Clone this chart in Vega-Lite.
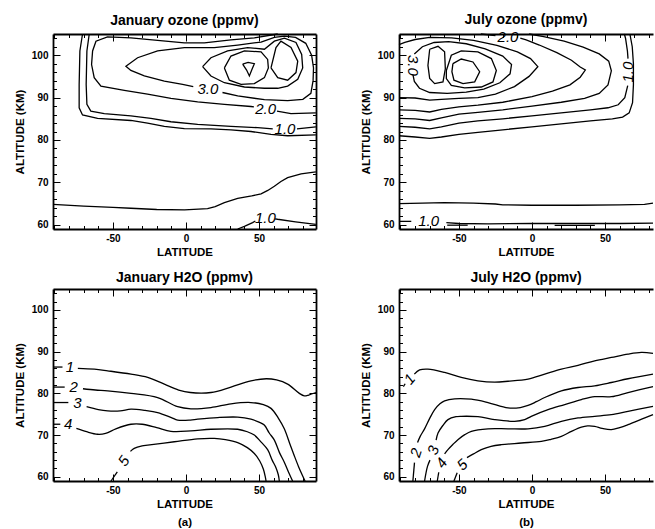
{
  "$schema": "https://vega.github.io/schema/vega-lite/v6.json",
  "background": "white",
  "padding": {"left": 14, "top": 13, "right": 0, "bottom": 0},
  "bounds": "flush",
  "columns": 2,
  "spacing": {"row": 60, "column": 83},
  "config": {
    "view": {"stroke": null},
    "axis": {
      "grid": false,
      "domainColor": "black",
      "domainWidth": 1.8,
      "tickColor": "black",
      "tickWidth": 1,
      "labelFont": "Liberation Sans",
      "labelFontSize": 10,
      "labelFontWeight": "bold",
      "labelColor": "black",
      "labelOverlap": false,
      "labelFlush": false,
      "titleFont": "Liberation Sans",
      "titleFontSize": 11.5,
      "titleFontWeight": "bold",
      "titleColor": "black"
    },
    "title": {"font": "Liberation Sans", "fontSize": 14, "fontWeight": "bold", "color": "black", "frame": "group", "offset": 3, "anchor": "middle"},
    "line": {"color": "black", "strokeWidth": 1.3},
    "text": {"font": "Liberation Sans", "fontSize": 15, "fontStyle": "italic", "color": "black", "baseline": "middle", "align": "center"}
  },
  "datasets": {
    "jo": [
      {"c":"A","lat":-70.8,"alt":105},{"c":"A","lat":-72.6,"alt":101},{"c":"A","lat":-73.1,"alt":93.1},{"c":"A","lat":-73.1,"alt":87.6},{"c":"A","lat":-70.8,"alt":85.9},{"c":"A","lat":-60.5,"alt":85.1},{"c":"A","lat":-37.7,"alt":84.6},{"c":"A","lat":-26.3,"alt":84},{"c":"A","lat":-14.8,"alt":83.2},{"c":"A","lat":-1.1,"alt":82.7},{"c":"A","lat":17.1,"alt":82.6},{"c":"A","lat":30.8,"alt":82.4},{"c":"A","lat":44.5,"alt":82},{"c":"A","lat":58.2,"alt":81.3},{"c":"A","lat":69.6,"alt":81},{"c":"A","lat":88.9,"alt":81.2},
      {"c":"B1","lat":-66.2,"alt":105},{"c":"B1","lat":-67.8,"alt":101},{"c":"B1","lat":-68.3,"alt":93.1},{"c":"B1","lat":-67.8,"alt":88.4},{"c":"B1","lat":-65.1,"alt":86.8},{"c":"B1","lat":-55.9,"alt":86.2},{"c":"B1","lat":-37.7,"alt":85.7},{"c":"B1","lat":-24,"alt":85.1},{"c":"B1","lat":-10.3,"alt":84.3},{"c":"B1","lat":8,"alt":83.7},{"c":"B1","lat":30.8,"alt":83.2},{"c":"B1","lat":49.1,"alt":82.9},{"c":"B1","lat":59.4,"alt":82.6},
      {"c":"B2","lat":76,"alt":82.6},{"c":"B2","lat":88.9,"alt":83.1},
      {"c":"C1","lat":62.8,"alt":105},{"c":"C1","lat":46.8,"alt":104.1},{"c":"C1","lat":30.8,"alt":103.6},{"c":"C1","lat":12.6,"alt":102.9},{"c":"C1","lat":-1.1,"alt":102.9},{"c":"C1","lat":-19.4,"alt":103.5},{"c":"C1","lat":-37.7,"alt":104.1},{"c":"C1","lat":-53.7,"alt":104.3},{"c":"C1","lat":-61.6,"alt":103.3},{"c":"C1","lat":-63.9,"alt":101},{"c":"C1","lat":-64.6,"alt":97.8},{"c":"C1","lat":-62.8,"alt":94.7},{"c":"C1","lat":-58.2,"alt":92.7},{"c":"C1","lat":-42.2,"alt":91.7},{"c":"C1","lat":-26.3,"alt":90.8},{"c":"C1","lat":-10.3,"alt":89.8},{"c":"C1","lat":8,"alt":89},{"c":"C1","lat":26.3,"alt":88.4},{"c":"C1","lat":44.5,"alt":87.9},{"c":"C1","lat":46.5,"alt":87.8},
      {"c":"C2","lat":62.3,"alt":86.8},{"c":"C2","lat":71.9,"alt":86.2},{"c":"C2","lat":88.9,"alt":86.4},
      {"c":"D","lat":25,"alt":91.2},{"c":"D","lat":35.4,"alt":90.4},{"c":"D","lat":53.7,"alt":89.5},{"c":"D","lat":69.6,"alt":89.3},{"c":"D","lat":80,"alt":89.6},{"c":"D","lat":85.5,"alt":91},{"c":"D","lat":87,"alt":94},{"c":"D","lat":87.3,"alt":97},{"c":"D","lat":86,"alt":100},{"c":"D","lat":82,"alt":102.8},{"c":"D","lat":75,"alt":104.2},{"c":"D","lat":67.4,"alt":104.5},{"c":"D","lat":60.5,"alt":104.2},{"c":"D","lat":51.4,"alt":103.1},{"c":"D","lat":35.4,"alt":102.4},{"c":"D","lat":19.4,"alt":101.8},{"c":"D","lat":-1.1,"alt":101.8},{"c":"D","lat":-19.4,"alt":101},{"c":"D","lat":-33.1,"alt":99.4},{"c":"D","lat":-41.1,"alt":97.4},{"c":"D","lat":-37.7,"alt":96.4},{"c":"D","lat":-28.5,"alt":95.1},{"c":"D","lat":-14.8,"alt":93.9},{"c":"D","lat":-2.3,"alt":93.1},{"c":"D","lat":5,"alt":92.6},
      {"c":"E","lat":11.4,"alt":97.3},{"c":"E","lat":17.1,"alt":99.4},{"c":"E","lat":28.5,"alt":101},{"c":"E","lat":42.2,"alt":101.8},{"c":"E","lat":53.7,"alt":101.4},{"c":"E","lat":60.5,"alt":103.3},{"c":"E","lat":67.4,"alt":104},{"c":"E","lat":75.3,"alt":103},{"c":"E","lat":79.2,"alt":100.2},{"c":"E","lat":79.9,"alt":97},{"c":"E","lat":76.5,"alt":94.3},{"c":"E","lat":69.6,"alt":92.7},{"c":"E","lat":62.8,"alt":92.2},{"c":"E","lat":53.7,"alt":92.2},{"c":"E","lat":40,"alt":92.5},{"c":"E","lat":26.3,"alt":93.5},{"c":"E","lat":17.1,"alt":95.1},{"c":"E","lat":11.4,"alt":97.3},
      {"c":"F","lat":26.3,"alt":97},{"c":"F","lat":30.8,"alt":99.8},{"c":"F","lat":40,"alt":101},{"c":"F","lat":51.4,"alt":100.8},{"c":"F","lat":55.9,"alt":99},{"c":"F","lat":56.4,"alt":97},{"c":"F","lat":53.7,"alt":94.7},{"c":"F","lat":46.8,"alt":93.3},{"c":"F","lat":37.7,"alt":93.1},{"c":"F","lat":29.7,"alt":94.1},{"c":"F","lat":26.3,"alt":97},
      {"c":"F2","lat":58.2,"alt":97},{"c":"F2","lat":61.6,"alt":101.8},{"c":"F2","lat":65,"alt":103.3},{"c":"F2","lat":71.9,"alt":101.8},{"c":"F2","lat":76.5,"alt":98.6},{"c":"F2","lat":75.3,"alt":95.9},{"c":"F2","lat":69.6,"alt":94.1},{"c":"F2","lat":62.8,"alt":94.7},{"c":"F2","lat":58.2,"alt":97},
      {"c":"G","lat":38.8,"alt":97.9},{"c":"G","lat":42.5,"alt":98.3},{"c":"G","lat":46.8,"alt":98},{"c":"G","lat":45,"alt":96.5},{"c":"G","lat":43.4,"alt":95.1},{"c":"G","lat":41.5,"alt":96.5},{"c":"G","lat":38.8,"alt":97.9},
      {"c":"L1","lat":-91,"alt":64.8},{"c":"L1","lat":-70,"alt":64.4},{"c":"L1","lat":-50,"alt":64.1},{"c":"L1","lat":-37.7,"alt":63.9},{"c":"L1","lat":-20,"alt":63.6},{"c":"L1","lat":-1,"alt":63.5},{"c":"L1","lat":14.8,"alt":63.8},{"c":"L1","lat":20,"alt":64.3},{"c":"L1","lat":26.3,"alt":65.2},{"c":"L1","lat":35.4,"alt":66.2},{"c":"L1","lat":45,"alt":66.8},{"c":"L1","lat":51.4,"alt":67.3},{"c":"L1","lat":56,"alt":68.1},{"c":"L1","lat":60.5,"alt":69.1},{"c":"L1","lat":65,"alt":70.2},{"c":"L1","lat":69.6,"alt":71.1},{"c":"L1","lat":78.8,"alt":72},{"c":"L1","lat":88.9,"alt":72.5},
      {"c":"L2a","lat":35.4,"alt":59},{"c":"L2a","lat":40,"alt":59.6},{"c":"L2a","lat":45.6,"alt":60.5},{"c":"L2a","lat":47.5,"alt":60.9},
      {"c":"L2b","lat":61,"alt":61.4},{"c":"L2b","lat":62.7,"alt":61.3},{"c":"L2b","lat":75,"alt":60.7},{"c":"L2b","lat":88.9,"alt":60.1}
    ],
    "joT": [
      {"t":"3.0","lat":15,"alt":92.1},
      {"t":"2.0","lat":54.5,"alt":87.3},
      {"t":"1.0","lat":67.8,"alt":82.5},
      {"t":"1.0","lat":54.3,"alt":61.5}
    ],
    "jy": [
      {"c":"c1","lat":-91,"alt":81},{"c":"c1","lat":-80,"alt":80.7},{"c":"c1","lat":-70,"alt":80.4},{"c":"c1","lat":-62,"alt":80.7},{"c":"c1","lat":-50,"alt":81.3},{"c":"c1","lat":-37,"alt":81.8},{"c":"c1","lat":-20,"alt":82.4},{"c":"c1","lat":0,"alt":83.1},{"c":"c1","lat":20,"alt":83.8},{"c":"c1","lat":40,"alt":84.5},{"c":"c1","lat":55,"alt":85},{"c":"c1","lat":62,"alt":85.4},{"c":"c1","lat":66.5,"alt":86.4},{"c":"c1","lat":68.8,"alt":88.8},{"c":"c1","lat":69.4,"alt":93},{"c":"c1","lat":69.4,"alt":98},{"c":"c1","lat":68.6,"alt":102},{"c":"c1","lat":67,"alt":105},
      {"c":"c2a","lat":-91,"alt":83.2},{"c":"c2a","lat":-80,"alt":83},{"c":"c2a","lat":-70,"alt":82.6},{"c":"c2a","lat":-62,"alt":83.1},{"c":"c2a","lat":-50,"alt":84},{"c":"c2a","lat":-37,"alt":84.5},{"c":"c2a","lat":-20,"alt":85},{"c":"c2a","lat":0,"alt":85.7},{"c":"c2a","lat":20,"alt":86.4},{"c":"c2a","lat":40,"alt":87.1},{"c":"c2a","lat":52,"alt":87.6},{"c":"c2a","lat":59,"alt":88.3},{"c":"c2a","lat":63.5,"alt":90},{"c":"c2a","lat":65.5,"alt":92.8},
      {"c":"c2b","lat":65.7,"alt":99.2},{"c":"c2b","lat":65.3,"alt":101},{"c":"c2b","lat":64,"alt":104},{"c":"c2b","lat":63.2,"alt":105},
      {"c":"c3","lat":-91,"alt":85.1},{"c":"c3","lat":-80,"alt":85},{"c":"c3","lat":-70,"alt":84.6},{"c":"c3","lat":-62,"alt":85.2},{"c":"c3","lat":-50,"alt":86.1},{"c":"c3","lat":-37,"alt":86.5},{"c":"c3","lat":-20,"alt":87.1},{"c":"c3","lat":0,"alt":88},{"c":"c3","lat":20,"alt":88.9},{"c":"c3","lat":36,"alt":89.8},{"c":"c3","lat":46,"alt":91},{"c":"c3","lat":52,"alt":93},{"c":"c3","lat":54.3,"alt":96.3},{"c":"c3","lat":52.5,"alt":98.6},{"c":"c3","lat":46,"alt":100.3},{"c":"c3","lat":35,"alt":101.9},{"c":"c3","lat":22,"alt":103.3},{"c":"c3","lat":8,"alt":104.4},{"c":"c3","lat":-2,"alt":105},
      {"c":"c4a","lat":-91,"alt":87.1},{"c":"c4a","lat":-80,"alt":87},{"c":"c4a","lat":-70,"alt":86.6},{"c":"c4a","lat":-62,"alt":87.2},{"c":"c4a","lat":-50,"alt":87.8},{"c":"c4a","lat":-37,"alt":88.2},{"c":"c4a","lat":-20,"alt":88.9},{"c":"c4a","lat":0,"alt":90.2},{"c":"c4a","lat":14,"alt":91.5},{"c":"c4a","lat":26,"alt":93},{"c":"c4a","lat":33,"alt":94.8},{"c":"c4a","lat":36.5,"alt":96.5},{"c":"c4a","lat":33,"alt":97.2},{"c":"c4a","lat":27,"alt":98.8},{"c":"c4a","lat":17,"alt":100.6},{"c":"c4a","lat":5,"alt":102.4},{"c":"c4a","lat":-4,"alt":103.6},{"c":"c4a","lat":-8,"alt":104},
      {"c":"c4b","lat":-25,"alt":104.6},{"c":"c4b","lat":-35,"alt":105},
      {"c":"c5","lat":-91,"alt":90},{"c":"c5","lat":-80,"alt":89.9},{"c":"c5","lat":-70,"alt":89.4},{"c":"c5","lat":-62,"alt":89.6},{"c":"c5","lat":-50,"alt":89.8},{"c":"c5","lat":-37,"alt":90},{"c":"c5","lat":-25,"alt":90.8},{"c":"c5","lat":-12,"alt":92.6},{"c":"c5","lat":-2,"alt":95},{"c":"c5","lat":4,"alt":97.3},{"c":"c5","lat":-1,"alt":99.2},{"c":"c5","lat":-10,"alt":100.8},{"c":"c5","lat":-24,"alt":102.3},{"c":"c5","lat":-40,"alt":103.5},{"c":"c5","lat":-55,"alt":104.1},{"c":"c5","lat":-70,"alt":104.2},{"c":"c5","lat":-80,"alt":103.7},{"c":"c5","lat":-87,"alt":103},{"c":"c5","lat":-91,"alt":102.5},
      {"c":"c6","lat":-80.5,"alt":100.3},{"c":"c6","lat":-75,"alt":102},{"c":"c6","lat":-67,"alt":103},{"c":"c6","lat":-57,"alt":103.2},{"c":"c6","lat":-45,"alt":102.7},{"c":"c6","lat":-32,"alt":101.5},{"c":"c6","lat":-20,"alt":99.8},{"c":"c6","lat":-14,"alt":97.8},{"c":"c6","lat":-15,"alt":95.6},{"c":"c6","lat":-22,"alt":93.5},{"c":"c6","lat":-33,"alt":92},{"c":"c6","lat":-45,"alt":91.3},{"c":"c6","lat":-58,"alt":91},{"c":"c6","lat":-70,"alt":91.2},{"c":"c6","lat":-77,"alt":92.2},{"c":"c6","lat":-80.5,"alt":93.8},{"c":"c6","lat":-81.4,"alt":95.3},
      {"c":"c7","lat":-58.6,"alt":96.4},{"c":"c7","lat":-55.2,"alt":100},{"c":"c7","lat":-48.4,"alt":101},{"c":"c7","lat":-37,"alt":100.8},{"c":"c7","lat":-27.8,"alt":99.2},{"c":"c7","lat":-24.4,"alt":96.4},{"c":"c7","lat":-26.7,"alt":93.7},{"c":"c7","lat":-34.7,"alt":92.5},{"c":"c7","lat":-46.1,"alt":92.3},{"c":"c7","lat":-55.2,"alt":92.9},{"c":"c7","lat":-58.6,"alt":94.5},{"c":"c7","lat":-58.6,"alt":96.4},
      {"c":"c7b","lat":-70,"alt":101.4},{"c":"c7b","lat":-64.3,"alt":102.1},{"c":"c7b","lat":-59.8,"alt":100.8},{"c":"c7b","lat":-59.3,"alt":96.8},{"c":"c7b","lat":-60.9,"alt":93.7},{"c":"c7b","lat":-66.6,"alt":93.3},{"c":"c7b","lat":-70,"alt":94.5},{"c":"c7b","lat":-71.2,"alt":97.6},{"c":"c7b","lat":-70,"alt":101.4},
      {"c":"c8","lat":-54.1,"alt":98},{"c":"c8","lat":-48.4,"alt":99.1},{"c":"c8","lat":-40.4,"alt":98.4},{"c":"c8","lat":-35.8,"alt":96.1},{"c":"c8","lat":-39.2,"alt":93.7},{"c":"c8","lat":-47.2,"alt":93.3},{"c":"c8","lat":-53.4,"alt":94.1},{"c":"c8","lat":-54.8,"alt":96.1},{"c":"c8","lat":-54.1,"alt":98},
      {"c":"h65","lat":-91,"alt":65},{"c":"h65","lat":-75,"alt":65.1},{"c":"h65","lat":-60,"alt":65.2},{"c":"h65","lat":-40,"alt":65.1},{"c":"h65","lat":-25,"alt":64.9},{"c":"h65","lat":-20,"alt":64.7},{"c":"h65","lat":0,"alt":64.6},{"c":"h65","lat":30,"alt":64.6},{"c":"h65","lat":60,"alt":64.7},{"c":"h65","lat":77,"alt":64.8},{"c":"h65","lat":82.8,"alt":65.1},
      {"c":"b1a","lat":-91,"alt":60.8},{"c":"b1a","lat":-82.6,"alt":60.8},
      {"c":"b1b","lat":-58.6,"alt":60.5},{"c":"b1b","lat":-50,"alt":60.3},{"c":"b1b","lat":-30,"alt":60.2},{"c":"b1b","lat":0,"alt":60.3},{"c":"b1b","lat":30,"alt":60.3},{"c":"b1b","lat":60,"alt":60.3},{"c":"b1b","lat":82.8,"alt":60.4},
      {"c":"b2","lat":-58,"alt":59.9},{"c":"b2","lat":-44,"alt":59.9},
      {"c":"b3","lat":15.5,"alt":59.85},{"c":"b3","lat":43,"alt":59.85}
    ],
    "jyT": [
      {"t":"2.0","lat":-16.4,"alt":104.2},
      {"t":"1.0","lat":-70.7,"alt":60.8},
      {"t":"3.0","lat":-81.3,"alt":97.6},
      {"t":"1.0","lat":65.7,"alt":96}
    ],
    "jh": [
      {"c":"l1a","lat":-91,"alt":86.3},{"c":"l1a","lat":-84.5,"alt":86.3},
      {"c":"l1b","lat":-74,"alt":86},{"c":"l1b","lat":-62.7,"alt":85.8},{"c":"l1b","lat":-53.6,"alt":85.4},{"c":"l1b","lat":-37.6,"alt":84.6},{"c":"l1b","lat":-26.2,"alt":83.8},{"c":"l1b","lat":-14.8,"alt":82.2},{"c":"l1b","lat":-5,"alt":80.8},{"c":"l1b","lat":3,"alt":80.2},{"c":"l1b","lat":17.1,"alt":80.2},{"c":"l1b","lat":30.8,"alt":81.5},{"c":"l1b","lat":44.5,"alt":83},{"c":"l1b","lat":55,"alt":83.5},{"c":"l1b","lat":62,"alt":83.2},{"c":"l1b","lat":69.6,"alt":82.2},{"c":"l1b","lat":77.6,"alt":80},{"c":"l1b","lat":81,"alt":79.4},{"c":"l1b","lat":84,"alt":79.6},{"c":"l1b","lat":89,"alt":80.2},
      {"c":"l2a","lat":-91,"alt":81.5},{"c":"l2a","lat":-83,"alt":81.5},
      {"c":"l2b","lat":-70.5,"alt":81.1},{"c":"l2b","lat":-62,"alt":80.8},{"c":"l2b","lat":-53.6,"alt":80.6},{"c":"l2b","lat":-37.6,"alt":80},{"c":"l2b","lat":-19.4,"alt":79},{"c":"l2b","lat":-5.7,"alt":76.8},{"c":"l2b","lat":3.4,"alt":76.3},{"c":"l2b","lat":17.1,"alt":76.6},{"c":"l2b","lat":30.8,"alt":77.5},{"c":"l2b","lat":44.5,"alt":77.8},{"c":"l2b","lat":53,"alt":77.3},{"c":"l2b","lat":58.2,"alt":76.4},{"c":"l2b","lat":63,"alt":74.2},{"c":"l2b","lat":67.3,"alt":71.5},{"c":"l2b","lat":71,"alt":68},{"c":"l2b","lat":74.2,"alt":65},{"c":"l2b","lat":77,"alt":62.5},{"c":"l2b","lat":79.5,"alt":60.5},{"c":"l2b","lat":81.5,"alt":59},
      {"c":"l3a","lat":-91,"alt":77.8},{"c":"l3a","lat":-80.5,"alt":77.8},
      {"c":"l3b","lat":-68,"alt":76.8},{"c":"l3b","lat":-60,"alt":76.1},{"c":"l3b","lat":-53.6,"alt":75.8},{"c":"l3b","lat":-45,"alt":75.8},{"c":"l3b","lat":-37.6,"alt":76.2},{"c":"l3b","lat":-28,"alt":75.9},{"c":"l3b","lat":-19.4,"alt":75.4},{"c":"l3b","lat":-10,"alt":74.2},{"c":"l3b","lat":-5.7,"alt":73.6},{"c":"l3b","lat":3,"alt":73.6},{"c":"l3b","lat":8,"alt":73.8},{"c":"l3b","lat":21.7,"alt":74.2},{"c":"l3b","lat":35.4,"alt":74.3},{"c":"l3b","lat":44.5,"alt":73.8},{"c":"l3b","lat":50,"alt":73.1},{"c":"l3b","lat":53.6,"alt":72.4},{"c":"l3b","lat":57,"alt":70.5},{"c":"l3b","lat":60.5,"alt":68.8},{"c":"l3b","lat":64,"alt":65.8},{"c":"l3b","lat":67.3,"alt":63.5},{"c":"l3b","lat":70,"alt":61.3},{"c":"l3b","lat":73,"alt":59},
      {"c":"l4a","lat":-91,"alt":72.6},{"c":"l4a","lat":-86,"alt":72.6},
      {"c":"l4b","lat":-75,"alt":71.6},{"c":"l4b","lat":-68,"alt":70.8},{"c":"l4b","lat":-60.5,"alt":70.2},{"c":"l4b","lat":-55,"alt":70.4},{"c":"l4b","lat":-48,"alt":71.5},{"c":"l4b","lat":-37.6,"alt":72.6},{"c":"l4b","lat":-30,"alt":72.6},{"c":"l4b","lat":-20,"alt":71.8},{"c":"l4b","lat":-10.3,"alt":70.9},{"c":"l4b","lat":3.4,"alt":71},{"c":"l4b","lat":17.1,"alt":71.4},{"c":"l4b","lat":35.4,"alt":71.4},{"c":"l4b","lat":42,"alt":70.8},{"c":"l4b","lat":46.8,"alt":70},{"c":"l4b","lat":51,"alt":68.5},{"c":"l4b","lat":55.9,"alt":66.5},{"c":"l4b","lat":59,"alt":64},{"c":"l4b","lat":61.6,"alt":62.2},{"c":"l4b","lat":63.2,"alt":60.5},{"c":"l4b","lat":63.9,"alt":59},
      {"c":"l5a","lat":-51.3,"alt":59},{"c":"l5a","lat":-47,"alt":61.2},
      {"c":"l5b","lat":-38,"alt":66.1},{"c":"l5b","lat":-35.4,"alt":66.8},{"c":"l5b","lat":-30,"alt":67.4},{"c":"l5b","lat":-26.2,"alt":67.6},{"c":"l5b","lat":-8,"alt":68.4},{"c":"l5b","lat":8,"alt":69.1},{"c":"l5b","lat":19.4,"alt":69.2},{"c":"l5b","lat":27,"alt":68.9},{"c":"l5b","lat":35.4,"alt":68.2},{"c":"l5b","lat":42,"alt":67},{"c":"l5b","lat":46.8,"alt":65.6},{"c":"l5b","lat":50.5,"alt":63.8},{"c":"l5b","lat":53,"alt":61.8},{"c":"l5b","lat":54.3,"alt":60},{"c":"l5b","lat":54.8,"alt":59}
    ],
    "jhT": [
      {"t":"1","lat":-79.5,"alt":86.3},
      {"t":"2","lat":-76.9,"alt":81.5},
      {"t":"3","lat":-74.3,"alt":77.8},
      {"t":"4","lat":-80.7,"alt":72.6},
      {"t":"5","lat":-42.5,"alt":63.8}
    ],
    "jw": [
      {"c":"w1a","lat":-88,"alt":81.6},{"c":"w1a","lat":-86.8,"alt":82.3},
      {"c":"w1b","lat":-80.5,"alt":84.6},{"c":"w1b","lat":-76.9,"alt":85.6},{"c":"w1b","lat":-71.2,"alt":85.8},{"c":"w1b","lat":-59.8,"alt":85},{"c":"w1b","lat":-48.4,"alt":83.8},{"c":"w1b","lat":-37,"alt":83},{"c":"w1b","lat":-25.6,"alt":82.7},{"c":"w1b","lat":-16.4,"alt":82.9},{"c":"w1b","lat":-2.7,"alt":83.4},{"c":"w1b","lat":8.7,"alt":84.6},{"c":"w1b","lat":20.1,"alt":85.8},{"c":"w1b","lat":31.5,"alt":86.7},{"c":"w1b","lat":42.9,"alt":87.8},{"c":"w1b","lat":54.3,"alt":88.6},{"c":"w1b","lat":65.7,"alt":89.4},{"c":"w1b","lat":74.8,"alt":89.8},{"c":"w1b","lat":82.8,"alt":89.6},
      {"c":"w2a","lat":-81.5,"alt":59},{"c":"w2a","lat":-80.4,"alt":63.4},
      {"c":"w2b","lat":-78.3,"alt":68.2},{"c":"w2b","lat":-76.5,"alt":69.7},{"c":"w2b","lat":-73.5,"alt":71.5},{"c":"w2b","lat":-70,"alt":74},{"c":"w2b","lat":-66.6,"alt":76.1},{"c":"w2b","lat":-63,"alt":77.5},{"c":"w2b","lat":-59.8,"alt":78.2},{"c":"w2b","lat":-52.9,"alt":78.7},{"c":"w2b","lat":-41.5,"alt":78.6},{"c":"w2b","lat":-30.1,"alt":77.8},{"c":"w2b","lat":-16.4,"alt":76.5},{"c":"w2b","lat":-8,"alt":76.6},{"c":"w2b","lat":-2.7,"alt":77.1},{"c":"w2b","lat":3,"alt":78},{"c":"w2b","lat":8.7,"alt":79},{"c":"w2b","lat":20.1,"alt":80.6},{"c":"w2b","lat":31.5,"alt":81.4},{"c":"w2b","lat":42.9,"alt":81.8},{"c":"w2b","lat":54.3,"alt":82.6},{"c":"w2b","lat":65.7,"alt":83.5},{"c":"w2b","lat":82.8,"alt":84.6},
      {"c":"w3a","lat":-73.5,"alt":59},{"c":"w3a","lat":-71.5,"alt":62.5},{"c":"w3a","lat":-69.8,"alt":64},
      {"c":"w3b","lat":-65.6,"alt":68.8},{"c":"w3b","lat":-64.3,"alt":70.5},{"c":"w3b","lat":-61,"alt":72.3},{"c":"w3b","lat":-57.5,"alt":73.7},{"c":"w3b","lat":-52,"alt":74.4},{"c":"w3b","lat":-48.4,"alt":74.5},{"c":"w3b","lat":-37,"alt":74.4},{"c":"w3b","lat":-25.6,"alt":73.7},{"c":"w3b","lat":-11.9,"alt":73.3},{"c":"w3b","lat":-5,"alt":73.7},{"c":"w3b","lat":-0.5,"alt":74.5},{"c":"w3b","lat":11,"alt":76.1},{"c":"w3b","lat":22.4,"alt":77.3},{"c":"w3b","lat":33.8,"alt":78.5},{"c":"w3b","lat":42.9,"alt":79.2},{"c":"w3b","lat":54.3,"alt":79.2},{"c":"w3b","lat":65.7,"alt":80.2},{"c":"w3b","lat":82.8,"alt":81.6},
      {"c":"w4a","lat":-64.8,"alt":59},{"c":"w4a","lat":-63.8,"alt":61.1},
      {"c":"w4b","lat":-59.8,"alt":65.5},{"c":"w4b","lat":-57.5,"alt":66.5},{"c":"w4b","lat":-54,"alt":67.8},{"c":"w4b","lat":-50.7,"alt":68.9},{"c":"w4b","lat":-46,"alt":70.1},{"c":"w4b","lat":-41.5,"alt":70.9},{"c":"w4b","lat":-30.1,"alt":71.5},{"c":"w4b","lat":-16.4,"alt":71.5},{"c":"w4b","lat":-2.7,"alt":71.5},{"c":"w4b","lat":8.7,"alt":72.1},{"c":"w4b","lat":20.1,"alt":73.3},{"c":"w4b","lat":31.5,"alt":74.1},{"c":"w4b","lat":42.9,"alt":74.5},{"c":"w4b","lat":54.3,"alt":74.9},{"c":"w4b","lat":65.7,"alt":75.7},{"c":"w4b","lat":82.8,"alt":76.9},
      {"c":"w5a","lat":-53.4,"alt":59},{"c":"w5a","lat":-51.2,"alt":61},
      {"c":"w5b","lat":-44.5,"alt":64.6},{"c":"w5b","lat":-40,"alt":65.5},{"c":"w5b","lat":-34.7,"alt":66.5},{"c":"w5b","lat":-28,"alt":67.3},{"c":"w5b","lat":-21,"alt":67.7},{"c":"w5b","lat":-7.3,"alt":68.1},{"c":"w5b","lat":6.4,"alt":68.5},{"c":"w5b","lat":13,"alt":69},{"c":"w5b","lat":20.1,"alt":69.7},{"c":"w5b","lat":27,"alt":70.9},{"c":"w5b","lat":33.8,"alt":71.9},{"c":"w5b","lat":38,"alt":72.2},{"c":"w5b","lat":42.9,"alt":72.1},{"c":"w5b","lat":48,"alt":71.6},{"c":"w5b","lat":54.3,"alt":71.3},{"c":"w5b","lat":60,"alt":71.8},{"c":"w5b","lat":65.7,"alt":72.5},{"c":"w5b","lat":75,"alt":73.8},{"c":"w5b","lat":82.8,"alt":74.9}
    ],
    "jwT": [
      {"t":"1","lat":-83.8,"alt":83.4},
      {"t":"2","lat":-79.3,"alt":65.8},
      {"t":"3","lat":-67.6,"alt":66.4},
      {"t":"4","lat":-61.9,"alt":63.3},
      {"t":"5","lat":-47.8,"alt":62.9}
    ]
  },
  "concat": [
    {
      "width": 263, "height": 195,
      "title": "January ozone (ppmv)",
      "resolve": {"axis": {"x": "independent", "y": "independent"}},
      "layer": [
        {
          "data": {"name": "jo"},
          "mark": {"type": "line"},
          "encoding": {
            "x": {"field": "lat", "type": "quantitative", "scale": {"domain": [-91, 89], "nice": false, "zero": false},
              "axis": {"orient": "bottom", "values": [-90,-80,-70,-60,-50,-40,-30,-20,-10,0,10,20,30,40,50,60,70,80], "labelExpr": "datum.value % 50 === 0 ? '' + datum.value : ''", "tickSize": {"condition": {"test": "datum.value % 50 === 0", "value": -7}, "value": -3.5}, "labelPadding": 11, "title": "LATITUDE", "titlePadding": 0}},
            "y": {"field": "alt", "type": "quantitative", "scale": {"domain": [59, 105], "nice": false, "zero": false},
              "axis": {"orient": "left", "values": [60,62,64,66,68,70,72,74,76,78,80,82,84,86,88,90,92,94,96,98,100,102,104], "labelExpr": "datum.value % 10 === 0 ? '' + datum.value : ''", "tickSize": {"condition": {"test": "datum.value % 10 === 0", "value": -7}, "value": -3.5}, "labelPadding": 12, "title": "ALTITUDE (KM)", "titlePadding": 6}},
            "detail": {"field": "c"},
            "order": {"value": null}
          }
        },
        {
          "data": {"name": "joT"},
          "mark": {"type": "text"},
          "encoding": {
            "x": {"field": "lat", "type": "quantitative", "scale": {"domain": [-91, 89], "nice": false, "zero": false},
              "axis": {"orient": "top", "values": [-90,-80,-70,-60,-50,-40,-30,-20,-10,0,10,20,30,40,50,60,70,80], "labels": false, "tickSize": {"condition": {"test": "datum.value % 50 === 0", "value": -7}, "value": -3.5}, "title": null}},
            "y": {"field": "alt", "type": "quantitative", "scale": {"domain": [59, 105], "nice": false, "zero": false},
              "axis": {"orient": "right", "values": [60,62,64,66,68,70,72,74,76,78,80,82,84,86,88,90,92,94,96,98,100,102,104], "labels": false, "tickSize": {"condition": {"test": "datum.value % 10 === 0", "value": -7}, "value": -3.5}, "title": null}},
            "text": {"field": "t"}
          }
        }
      ]
    },
    {
      "width": 254, "height": 195,
      "title": "July ozone (ppmv)",
      "resolve": {"axis": {"x": "independent", "y": "independent"}},
      "layer": [
        {
          "data": {"name": "jy"},
          "mark": {"type": "line"},
          "encoding": {
            "x": {"field": "lat", "type": "quantitative", "scale": {"domain": [-91, 82.8], "nice": false, "zero": false},
              "axis": {"orient": "bottom", "values": [-90,-80,-70,-60,-50,-40,-30,-20,-10,0,10,20,30,40,50,60,70,80], "labelExpr": "datum.value % 50 === 0 ? '' + datum.value : ''", "tickSize": {"condition": {"test": "datum.value % 50 === 0", "value": -7}, "value": -3.5}, "labelPadding": 11, "title": "LATITUDE", "titlePadding": 0}},
            "y": {"field": "alt", "type": "quantitative", "scale": {"domain": [59, 105], "nice": false, "zero": false},
              "axis": {"orient": "left", "values": [60,62,64,66,68,70,72,74,76,78,80,82,84,86,88,90,92,94,96,98,100,102,104], "labelExpr": "datum.value % 10 === 0 ? '' + datum.value : ''", "tickSize": {"condition": {"test": "datum.value % 10 === 0", "value": -7}, "value": -3.5}, "labelPadding": 12, "title": "ALTITUDE (KM)", "titlePadding": 6}},
            "detail": {"field": "c"},
            "order": {"value": null}
          }
        },
        {
          "data": {"name": "jyT"},
          "transform": [{"filter": "datum.t === '2.0' || datum.alt < 70"}],
          "mark": {"type": "text"},
          "encoding": {
            "x": {"field": "lat", "type": "quantitative", "scale": {"domain": [-91, 82.8], "nice": false, "zero": false},
              "axis": {"orient": "top", "values": [-90,-80,-70,-60,-50,-40,-30,-20,-10,0,10,20,30,40,50,60,70,80], "labels": false, "tickSize": {"condition": {"test": "datum.value % 50 === 0", "value": -7}, "value": -3.5}, "title": null}},
            "y": {"field": "alt", "type": "quantitative", "scale": {"domain": [59, 105], "nice": false, "zero": false}, "axis": null},
            "text": {"field": "t"}
          }
        },
        {
          "data": {"name": "jyT"},
          "transform": [{"filter": "datum.t === '3.0'"}],
          "mark": {"type": "text", "angle": 90},
          "encoding": {
            "x": {"field": "lat", "type": "quantitative", "scale": {"domain": [-91, 82.8], "nice": false, "zero": false}, "axis": null},
            "y": {"field": "alt", "type": "quantitative", "scale": {"domain": [59, 105], "nice": false, "zero": false}, "axis": null},
            "text": {"field": "t"}
          }
        },
        {
          "data": {"name": "jyT"},
          "transform": [{"filter": "datum.t === '1.0' && datum.alt > 70"}],
          "mark": {"type": "text", "angle": 270},
          "encoding": {
            "x": {"field": "lat", "type": "quantitative", "scale": {"domain": [-91, 82.8], "nice": false, "zero": false}, "axis": null},
            "y": {"field": "alt", "type": "quantitative", "scale": {"domain": [59, 105], "nice": false, "zero": false}, "axis": null},
            "text": {"field": "t"}
          }
        }
      ]
    },
    {
      "width": 263, "height": 192,
      "title": "January H2O (ppmv)",
      "resolve": {"axis": {"x": "independent", "y": "independent"}},
      "layer": [
        {
          "data": {"name": "jh"},
          "mark": {"type": "line", "interpolate": "catmull-rom"},
          "encoding": {
            "x": {"field": "lat", "type": "quantitative", "scale": {"domain": [-91, 89], "nice": false, "zero": false},
              "axis": {"orient": "bottom", "values": [-90,-80,-70,-60,-50,-40,-30,-20,-10,0,10,20,30,40,50,60,70,80], "labelExpr": "datum.value % 50 === 0 ? '' + datum.value : ''", "tickSize": {"condition": {"test": "datum.value % 50 === 0", "value": -7}, "value": -3.5}, "labelPadding": 11, "title": ["LATITUDE", "(a)"], "titleLineHeight": 18, "titlePadding": 0}},
            "y": {"field": "alt", "type": "quantitative", "scale": {"domain": [59, 105], "nice": false, "zero": false},
              "axis": {"orient": "left", "values": [60,62,64,66,68,70,72,74,76,78,80,82,84,86,88,90,92,94,96,98,100,102,104], "labelExpr": "datum.value % 10 === 0 ? '' + datum.value : ''", "tickSize": {"condition": {"test": "datum.value % 10 === 0", "value": -7}, "value": -3.5}, "labelPadding": 12, "title": "ALTITUDE (KM)", "titlePadding": 6}},
            "detail": {"field": "c"},
            "order": {"value": null}
          }
        },
        {
          "data": {"name": "jhT"},
          "transform": [{"filter": "datum.t !== '5'"}],
          "mark": {"type": "text"},
          "encoding": {
            "x": {"field": "lat", "type": "quantitative", "scale": {"domain": [-91, 89], "nice": false, "zero": false},
              "axis": {"orient": "top", "values": [-90,-80,-70,-60,-50,-40,-30,-20,-10,0,10,20,30,40,50,60,70,80], "labels": false, "tickSize": {"condition": {"test": "datum.value % 50 === 0", "value": -7}, "value": -3.5}, "title": null}},
            "y": {"field": "alt", "type": "quantitative", "scale": {"domain": [59, 105], "nice": false, "zero": false},
              "axis": {"orient": "right", "values": [60,62,64,66,68,70,72,74,76,78,80,82,84,86,88,90,92,94,96,98,100,102,104], "labels": false, "tickSize": {"condition": {"test": "datum.value % 10 === 0", "value": -7}, "value": -3.5}, "title": null}},
            "text": {"field": "t"}
          }
        },
        {
          "data": {"name": "jhT"},
          "transform": [{"filter": "datum.t === '5'"}],
          "mark": {"type": "text", "angle": -55},
          "encoding": {
            "x": {"field": "lat", "type": "quantitative", "scale": {"domain": [-91, 89], "nice": false, "zero": false}, "axis": null},
            "y": {"field": "alt", "type": "quantitative", "scale": {"domain": [59, 105], "nice": false, "zero": false}, "axis": null},
            "text": {"field": "t"}
          }
        }
      ]
    },
    {
      "width": 254, "height": 192,
      "title": "July H2O (ppmv)",
      "resolve": {"axis": {"x": "independent", "y": "independent"}},
      "layer": [
        {
          "data": {"name": "jw"},
          "mark": {"type": "line", "interpolate": "catmull-rom"},
          "encoding": {
            "x": {"field": "lat", "type": "quantitative", "scale": {"domain": [-91, 82.8], "nice": false, "zero": false},
              "axis": {"orient": "bottom", "values": [-90,-80,-70,-60,-50,-40,-30,-20,-10,0,10,20,30,40,50,60,70,80], "labelExpr": "datum.value % 50 === 0 ? '' + datum.value : ''", "tickSize": {"condition": {"test": "datum.value % 50 === 0", "value": -7}, "value": -3.5}, "labelPadding": 11, "title": ["LATITUDE", "(b)"], "titleLineHeight": 18, "titlePadding": 0}},
            "y": {"field": "alt", "type": "quantitative", "scale": {"domain": [59, 105], "nice": false, "zero": false},
              "axis": {"orient": "left", "values": [60,62,64,66,68,70,72,74,76,78,80,82,84,86,88,90,92,94,96,98,100,102,104], "labelExpr": "datum.value % 10 === 0 ? '' + datum.value : ''", "tickSize": {"condition": {"test": "datum.value % 10 === 0", "value": -7}, "value": -3.5}, "labelPadding": 12, "title": "ALTITUDE (KM)", "titlePadding": 6}},
            "detail": {"field": "c"},
            "order": {"value": null}
          }
        },
        {
          "data": {"name": "jwT"},
          "transform": [{"filter": "datum.t === '1'"}],
          "mark": {"type": "text", "angle": -50},
          "encoding": {
            "x": {"field": "lat", "type": "quantitative", "scale": {"domain": [-91, 82.8], "nice": false, "zero": false},
              "axis": {"orient": "top", "values": [-90,-80,-70,-60,-50,-40,-30,-20,-10,0,10,20,30,40,50,60,70,80], "labels": false, "tickSize": {"condition": {"test": "datum.value % 50 === 0", "value": -7}, "value": -3.5}, "title": null}},
            "y": {"field": "alt", "type": "quantitative", "scale": {"domain": [59, 105], "nice": false, "zero": false}, "axis": null},
            "text": {"field": "t"}
          }
        },
        {
          "data": {"name": "jwT"},
          "transform": [{"filter": "datum.t === '2' || datum.t === '3'"}],
          "mark": {"type": "text", "angle": -72},
          "encoding": {
            "x": {"field": "lat", "type": "quantitative", "scale": {"domain": [-91, 82.8], "nice": false, "zero": false}, "axis": null},
            "y": {"field": "alt", "type": "quantitative", "scale": {"domain": [59, 105], "nice": false, "zero": false}, "axis": null},
            "text": {"field": "t"}
          }
        },
        {
          "data": {"name": "jwT"},
          "transform": [{"filter": "datum.t === '4'"}],
          "mark": {"type": "text", "angle": -55},
          "encoding": {
            "x": {"field": "lat", "type": "quantitative", "scale": {"domain": [-91, 82.8], "nice": false, "zero": false}, "axis": null},
            "y": {"field": "alt", "type": "quantitative", "scale": {"domain": [59, 105], "nice": false, "zero": false}, "axis": null},
            "text": {"field": "t"}
          }
        },
        {
          "data": {"name": "jwT"},
          "transform": [{"filter": "datum.t === '5'"}],
          "mark": {"type": "text", "angle": -42},
          "encoding": {
            "x": {"field": "lat", "type": "quantitative", "scale": {"domain": [-91, 82.8], "nice": false, "zero": false}, "axis": null},
            "y": {"field": "alt", "type": "quantitative", "scale": {"domain": [59, 105], "nice": false, "zero": false}, "axis": null},
            "text": {"field": "t"}
          }
        }
      ]
    }
  ]
}
